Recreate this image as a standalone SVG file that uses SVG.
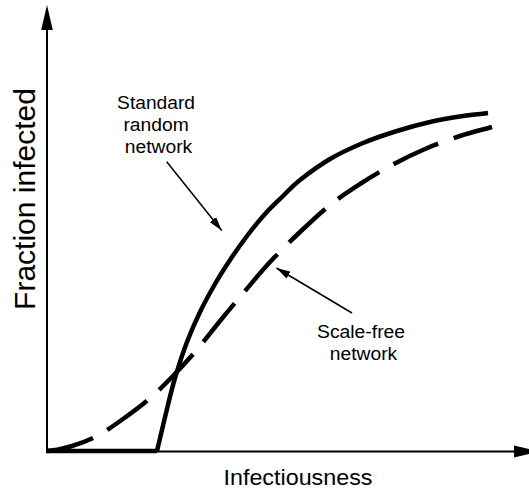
<svg xmlns="http://www.w3.org/2000/svg" width="529" height="491" viewBox="0 0 529 491">
  <style>
    .lbl { font-family: "Liberation Sans", Arial, sans-serif; fill: #000; text-anchor: middle; }
    .axis { stroke: #000; stroke-width: 2; fill: none; }
    .curve { stroke: #000; stroke-width: 4.5; fill: none; stroke-linecap: butt; stroke-linejoin: round; }
    .ptr { stroke: #000; stroke-width: 1.5; fill: none; marker-end: url(#ah); }
  </style>
  <defs>
    <marker id="ah" viewBox="0 0 14 8" refX="14" refY="4" markerWidth="14" markerHeight="8" orient="auto" markerUnits="userSpaceOnUse">
      <path d="M0,0 L14,4 L0,8 z" fill="#000"/>
    </marker>
  </defs>
  <rect width="529" height="491" fill="#fff"/>

  <g id="axes">
    <line class="axis" x1="47" y1="452" x2="47" y2="29"/>
    <polygon points="47,5 41.2,30 52.8,30" fill="#000"/>
    <line class="axis" x1="46" y1="451.5" x2="515" y2="451.5"/>
    <polygon points="514,445.5 539,451.5 514,457.5" fill="#000"/>
    <text class="lbl" transform="translate(35,199) rotate(-90)" font-size="30">Fraction infected</text>
    <text class="lbl" x="298" y="485" font-size="21.2" textLength="149" lengthAdjust="spacingAndGlyphs">Infectiousness</text>
  </g>

  <g id="standard-random-network">
    <path class="curve" d="M46,451 L157,451"/>
    <path class="curve" d="M157,451 C160,438.3 163,425.2 166,413 C169,400.8 171.5,389.8 175,378 C178.5,366.2 182.8,353 187,342 C191.2,331 195.3,321.7 200,312 C204.7,302.3 210,292.7 215,284 C220,275.3 224.7,268 230,260 C235.3,252 241.2,243.7 247,236 C252.8,228.3 259,220.7 265,214 C271,207.3 277.2,201.7 283,196 C288.8,190.3 292.2,186.2 300,180 C307.8,173.8 319.5,165.2 330,159 C340.5,152.8 351.8,147.7 363,143 C374.2,138.3 385.8,134.5 397,131 C408.2,127.5 419,124.5 430,122 C441,119.5 453.3,117.5 463,116 C472.7,114.5 479.7,114 488,113"/>
    <text class="lbl" font-size="17.5">
      <tspan x="158.5" y="108.5" textLength="78" lengthAdjust="spacingAndGlyphs">Standard</tspan>
      <tspan x="158.5" y="130.5" textLength="65.3" lengthAdjust="spacingAndGlyphs">random</tspan>
      <tspan x="158.5" y="152.5" textLength="67.4" lengthAdjust="spacingAndGlyphs">network</tspan>
    </text>
  </g>

  <g id="scale-free-network">
    <path class="curve" pathLength="564" stroke-dasharray="49.2 16.3" d="M46,451 C54.7,451 63.5,448.5 72,446 C80.5,443.5 88.5,440.5 97,436 C105.5,431.5 114.5,425 123,419 C131.5,413 139.8,407 148,400 C156.2,393 164.2,385 172,377 C179.8,369 187,361.3 195,352 C203,342.7 211.7,331.2 220,321 C228.3,310.8 236.7,300.8 245,291 C253.3,281.2 260.8,271.8 270,262 C279.2,252.2 290,241.5 300,232 C310,222.5 320,213 330,205 C340,197 349.7,190.7 360,184 C370.3,177.3 381.2,170.8 392,165 C402.8,159.2 413.7,153.8 425,149 C436.3,144.2 448.8,139.7 460,136 C471.2,132.3 481.3,130 492,127"/>
    <text class="lbl" font-size="17.5">
      <tspan x="363.5" y="337.5" textLength="88" lengthAdjust="spacingAndGlyphs">Scale-free</tspan>
      <tspan x="363.5" y="359.5" textLength="67.4" lengthAdjust="spacingAndGlyphs">network</tspan>
    </text>
  </g>

  <g id="connectors">
    <line class="ptr" x1="166.7" y1="161.7" x2="221.7" y2="230.5"/>
    <line class="ptr" x1="352" y1="313" x2="276.5" y2="268"/>
  </g>
</svg>
